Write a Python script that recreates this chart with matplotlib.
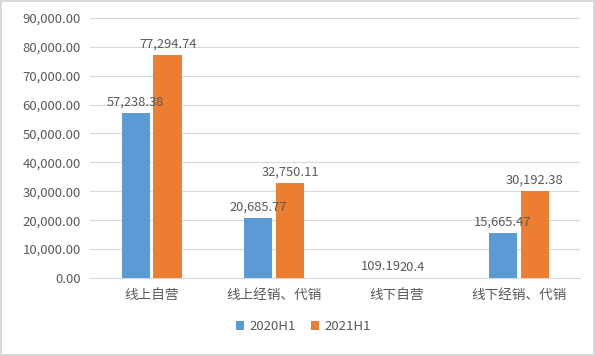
import matplotlib.pyplot as plt
import numpy as np

plt.rcParams['font.family'] = ['Noto Sans CJK SC', 'DejaVu Sans']

categories = ["线上自营", "线上经销、代销", "线下自营", "线下经销、代销"]
series_names = ["2020H1", "2021H1"]
values_2020 = [57238.38, 20685.77, 109.19, 15665.47]
values_2021 = [77294.74, 32750.11, 20.4, 30192.38]
labels_2020 = ["57,238.38", "20,685.77", "109.19", "15,665.47"]
labels_2021 = ["77,294.74", "32,750.11", "20.4", "30,192.38"]
yticks = np.arange(0, 90001, 10000)

colors = ["#5B9BD5", "#ED7D31"]
text_color = "#595959"

fig = plt.figure(figsize=(5.95, 3.56), dpi=100)
fig.patch.set_edgecolor("#D9D9D9")
fig.patch.set_linewidth(1.5)
ax = fig.add_axes([0.152, 0.219, 0.823, 0.731])

x = np.arange(len(categories))
w = 0.23
off = 0.13
b1 = ax.bar(x - off, values_2020, w, color=colors[0], label=series_names[0], zorder=3)
b2 = ax.bar(x + off, values_2021, w, color=colors[1], label=series_names[1], zorder=3)

for bars, labels in ((b1, labels_2020), (b2, labels_2021)):
    for rect, lab in zip(bars, labels):
        ax.text(rect.get_x() + rect.get_width() / 2, rect.get_height() + 1500, lab,
                ha="center", va="bottom", fontsize=9.3, color=text_color, zorder=4)

ax.set_xlim(-0.5, 3.5)
ax.set_ylim(0, 90000)
ax.set_yticks(yticks)
ax.set_yticklabels([f"{v:,.2f}" for v in yticks])
ax.set_xticks(x)
ax.set_xticklabels(categories)
ax.tick_params(axis="both", length=0, colors=text_color, labelsize=9.5)
ax.tick_params(axis="x", pad=7, labelsize=9.8)
ax.tick_params(axis="y", pad=7)
ax.grid(axis="y", color="#D9D9D9", linewidth=0.8, zorder=0)
for s in ("top", "right", "left"):
    ax.spines[s].set_visible(False)
ax.spines["bottom"].set_color("#D9D9D9")

leg = fig.legend(loc="center", bbox_to_anchor=(0.51, 0.082), ncol=2, frameon=False,
                 fontsize=9.5, handlelength=0.6, handleheight=0.6, columnspacing=1.2,
                 handletextpad=0.4)
for t in leg.get_texts():
    t.set_color(text_color)

fig.savefig("out.png", dpi=100)
